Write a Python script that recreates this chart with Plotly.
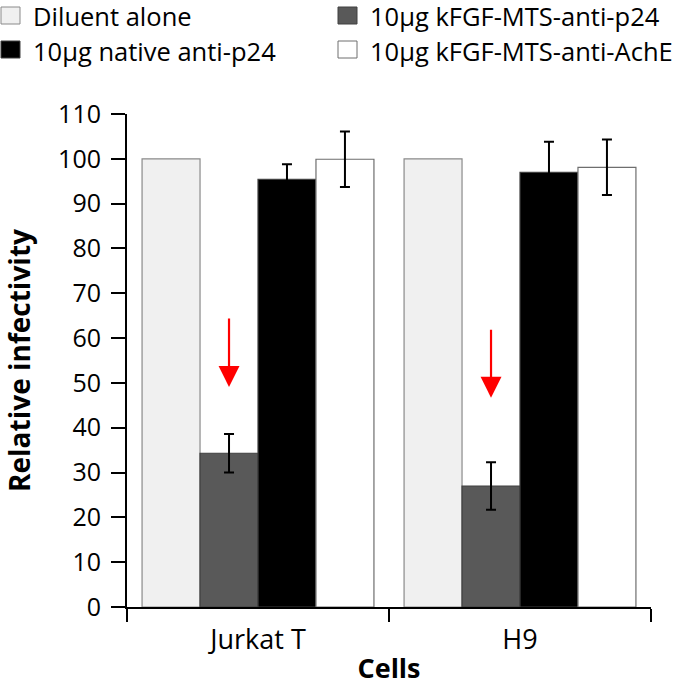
import plotly.graph_objects as go

# ---- data ----
cells = ["Jurkat T", "H9"]
series_names = ["Diluent alone", "10µg kFGF-MTS-anti-p24",
                "10µg native anti-p24", "10µg kFGF-MTS-anti-AchE"]
diluent = [100.0, 100.0]
kfgf_p24 = [34.3, 27.0]
native_p24 = [95.4, 97.0]
kfgf_ache = [99.9, 98.1]
err_diluent = None
err_kfgf_p24 = [4.3, 5.3]
err_native_p24 = [3.4, 6.8]
err_kfgf_ache = [6.2, 6.2]
arrow_top = [64.7, 62.2]
arrow_tip = [49.1, 46.7]
y_ticks = list(range(0, 111, 10))

values = [diluent, kfgf_p24, native_p24, kfgf_ache]
errors = [err_diluent, err_kfgf_p24, err_native_p24, err_kfgf_ache]
fills = ["#f0f0f0", "#595959", "#000000", "#ffffff"]
borders = ["#8a8a8a", "#404040", "#404040", "#6e6e6e"]

FONT = "Open Sans"
W, H = 691, 686
ML, MR, MT, MB = 127, 40, 114, 79
BARGAP = 0.115

fig = go.Figure()
for name, v, e, fc, bc in zip(series_names, values, errors, fills, borders):
    fig.add_trace(go.Bar(
        x=cells, y=v, name=name,
        marker=dict(color=fc, line=dict(color=bc, width=1.2)),
        error_y=dict(type="data", array=e, visible=e is not None, color="black",
                     thickness=2, width=5),
        showlegend=False,
    ))

# red arrows above the kFGF-MTS-anti-p24 bars
nbar = 4
w = (1 - BARGAP) / nbar
for i in range(len(cells)):
    xpos = i - 0.5 * w
    fig.add_annotation(
        x=xpos, y=arrow_tip[i], ax=xpos, ay=arrow_top[i],
        xref="x", yref="y", axref="x", ayref="y",
        showarrow=True, arrowhead=2, arrowsize=1.9, arrowwidth=2.2,
        arrowcolor="#ff0000", text="",
    )

# manual legend (2 x 2 grid) in pixel-based paper coords
pw = W - ML - MR
ph = H - MT - MB

def px(xp):
    return (xp - ML) / pw

def py(yp):
    return (H - MB - yp) / ph

legend_pos = [(0, 16.5), (337, 16.5), (0, 50.5), (337, 50.5)]
for (lx, ly), name, fc, bc in zip(legend_pos, series_names, fills, borders):
    fig.add_shape(type="rect", xref="paper", yref="paper",
                  x0=px(lx + 1), x1=px(lx + 20), y0=py(ly - 9.5), y1=py(ly + 7.5),
                  fillcolor=fc, line=dict(color=bc, width=1))
    fig.add_annotation(xref="paper", yref="paper", x=px(lx + 31), y=py(ly),
                       text=name, showarrow=False, xanchor="left", yanchor="middle",
                       font=dict(family=FONT, size=25.5, color="black"))

fig.update_layout(
    width=W, height=H,
    margin=dict(l=ML, r=MR, t=MT, b=MB, autoexpand=False),
    paper_bgcolor="white", plot_bgcolor="white",
    barmode="group", bargap=BARGAP, bargroupgap=0,
    font=dict(family=FONT, size=25, color="black"),
    xaxis=dict(
        range=[-0.5, 1.5], showline=True, linecolor="black", linewidth=2,
        ticks="outside", tickson="boundaries", ticklen=13, tickwidth=2,
        tickcolor="black", showgrid=False, zeroline=False, ticklabelstandoff=8,
        tickfont=dict(family=FONT, size=27),
        title=dict(text="<b>Cells</b>", font=dict(family=FONT, size=27), standoff=15),
    ),
    yaxis=dict(
        range=[0, 110], tickvals=y_ticks, showline=True, linecolor="black",
        linewidth=2, ticks="outside", ticklen=14, tickwidth=2, tickcolor="black",
        showgrid=False, zeroline=False, ticklabelstandoff=5,
        tickfont=dict(family=FONT, size=25),
        title=dict(text="<b>Relative infectivity</b>", font=dict(family=FONT, size=28),
                   standoff=34),
    ),
)

fig.write_html("out.html", config={"displayModeBar": False},
               post_script="document.body.style.margin='0px';")
